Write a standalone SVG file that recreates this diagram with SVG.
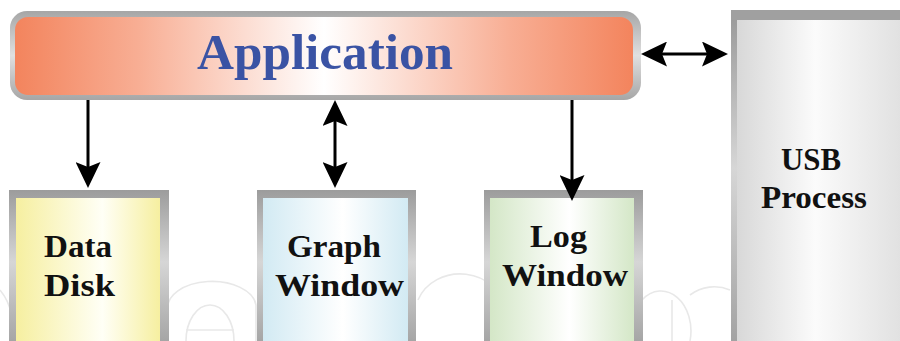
<svg xmlns="http://www.w3.org/2000/svg" width="900" height="341" viewBox="0 0 900 341">
  <style>
    .lbl { font-family: "Liberation Serif", "Times New Roman", serif; font-weight: bold; font-size: 32px; fill: #111111; }
    .title { font-family: "Liberation Serif", "Times New Roman", serif; font-weight: bold; font-size: 51px; fill: #3a53a4; }
    .conn { stroke: #000000; stroke-width: 3; fill: none; }
    .wm { stroke: #e8e8e8; stroke-width: 1.6; fill: none; }
  </style>
  <defs>
    <linearGradient id="appBorder" x1="0" y1="0" x2="0" y2="1">
      <stop offset="0" stop-color="#a6a6a6"/>
      <stop offset="0.5" stop-color="#e0e0e0"/>
      <stop offset="1" stop-color="#a6a6a6"/>
    </linearGradient>
    <linearGradient id="appFill" x1="0" y1="0" x2="1" y2="0">
      <stop offset="0" stop-color="#f3845d"/>
      <stop offset="0.2" stop-color="#f8ae94"/>
      <stop offset="0.5" stop-color="#ffffff"/>
      <stop offset="0.8" stop-color="#f8ae94"/>
      <stop offset="1" stop-color="#f3845d"/>
    </linearGradient>
    <linearGradient id="boxBorder" x1="0" y1="0" x2="0" y2="1">
      <stop offset="0" stop-color="#9c9c9c"/>
      <stop offset="0.45" stop-color="#d6d6d6"/>
      <stop offset="1" stop-color="#a0a0a0"/>
    </linearGradient>
    <linearGradient id="yellowFill" x1="0" y1="0" x2="1" y2="0">
      <stop offset="0" stop-color="#f6efa0"/>
      <stop offset="0.6" stop-color="#fffff6"/>
      <stop offset="1" stop-color="#f6efa0"/>
    </linearGradient>
    <linearGradient id="blueFill" x1="0" y1="0" x2="1" y2="0">
      <stop offset="0" stop-color="#d2eaf3"/>
      <stop offset="0.55" stop-color="#ffffff"/>
      <stop offset="1" stop-color="#d2eaf3"/>
    </linearGradient>
    <linearGradient id="greenFill" x1="0" y1="0" x2="1" y2="0">
      <stop offset="0" stop-color="#d4e7c7"/>
      <stop offset="0.55" stop-color="#ffffff"/>
      <stop offset="1" stop-color="#d4e7c7"/>
    </linearGradient>
    <linearGradient id="grayFill" x1="0" y1="0" x2="1" y2="0">
      <stop offset="0" stop-color="#d8d8d8"/>
      <stop offset="0.45" stop-color="#fbfbfb"/>
      <stop offset="1" stop-color="#dedede"/>
    </linearGradient>
    <marker id="head" markerUnits="userSpaceOnUse" markerWidth="26" markerHeight="25" viewBox="0 0 26 25" refX="5" refY="12.5" orient="auto-start-reverse">
      <path d="M0,0 L26,12.5 L0,25 L5,12.5 Z" fill="#000000"/>
    </marker>
  </defs>

  <g id="watermark">
    <path class="wm" d="M0,290 A55,55 0 0 1 10,341"/>
    <path class="wm" d="M168,341 L168,310 A44,26 0 0 1 256,305 L256,341"/>
    <path class="wm" d="M186,341 A24,36 0 0 1 234,341"/>
    <path class="wm" d="M186,330 L234,330"/>
    <path class="wm" d="M418,300 A45,40 0 0 1 505,310"/>
    <path class="wm" d="M642,300 A30,40 0 0 1 690,341"/>
    <path class="wm" d="M672,300 L672,341"/>
    <path class="wm" d="M690,295 A40,40 0 0 1 730,290"/>
  </g>

  <g id="application">
    <rect x="10" y="11" width="631" height="89" rx="17" ry="17" fill="url(#appBorder)"/>
    <rect x="15" y="17" width="618" height="78" rx="13" ry="13" fill="url(#appFill)"/>
    <text class="title" x="197" y="69" textLength="256" lengthAdjust="spacingAndGlyphs">Application</text>
  </g>

  <g id="usb-process">
    <rect x="731" y="10" width="180" height="340" fill="#a0a0a0"/>
    <rect x="731" y="20" width="180" height="330" fill="url(#boxBorder)"/>
    <rect x="737" y="20" width="174" height="330" fill="url(#grayFill)"/>
    <text class="lbl" x="781" y="170" textLength="60" lengthAdjust="spacingAndGlyphs">USB</text>
    <text class="lbl" x="761" y="208" textLength="106" lengthAdjust="spacingAndGlyphs">Process</text>
  </g>

  <g id="data-disk">
    <rect x="9" y="190" width="160" height="160" fill="url(#boxBorder)"/>
    <rect x="16" y="198" width="144" height="152" fill="url(#yellowFill)"/>
    <text class="lbl" x="44" y="257" textLength="68" lengthAdjust="spacingAndGlyphs">Data</text>
    <text class="lbl" x="44" y="296" textLength="71" lengthAdjust="spacingAndGlyphs">Disk</text>
  </g>

  <g id="graph-window">
    <rect x="257" y="190" width="159" height="160" fill="url(#boxBorder)"/>
    <rect x="263" y="198" width="145" height="152" fill="url(#blueFill)"/>
    <text class="lbl" x="287" y="257" textLength="94" lengthAdjust="spacingAndGlyphs">Graph</text>
    <text class="lbl" x="275" y="296" textLength="129" lengthAdjust="spacingAndGlyphs">Window</text>
  </g>

  <g id="log-window">
    <rect x="484" y="190" width="159" height="160" fill="url(#boxBorder)"/>
    <rect x="490" y="198" width="144" height="152" fill="url(#greenFill)"/>
    <text class="lbl" x="530" y="247" textLength="57" lengthAdjust="spacingAndGlyphs">Log</text>
    <text class="lbl" x="502" y="286" textLength="126" lengthAdjust="spacingAndGlyphs">Window</text>
  </g>

  <g id="connectors">
    <line class="conn" x1="88" y1="100" x2="88" y2="167" marker-end="url(#head)"/>
    <line class="conn" x1="335" y1="121" x2="335" y2="167" marker-start="url(#head)" marker-end="url(#head)"/>
    <line class="conn" x1="572" y1="100" x2="572" y2="180" marker-end="url(#head)"/>
    <line class="conn" x1="662" y1="54" x2="707" y2="54" marker-start="url(#head)" marker-end="url(#head)"/>
  </g>
</svg>
